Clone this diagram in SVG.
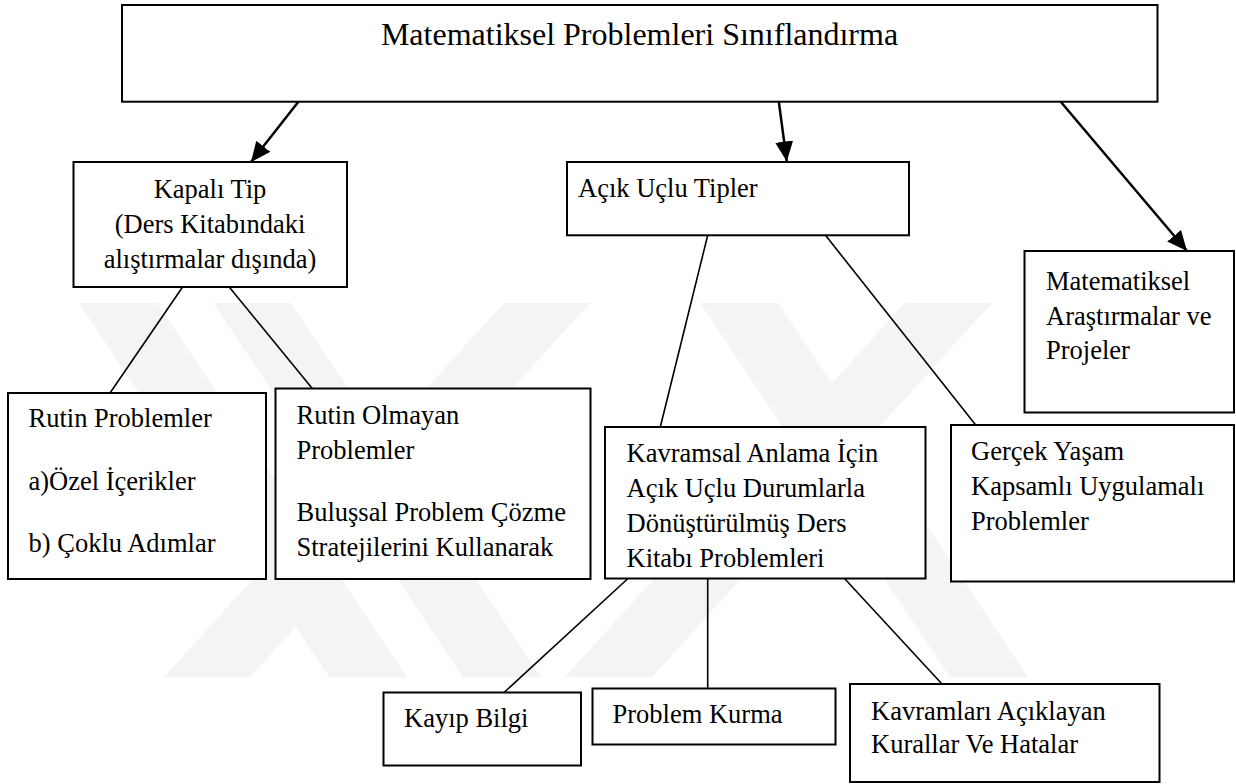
<svg xmlns="http://www.w3.org/2000/svg" width="1236" height="784" viewBox="0 0 1236 784">
<defs>
<style>
.box{fill:#fff;stroke:#000;stroke-width:2}
text{font-family:Liberation Serif, Tinos, Times New Roman, serif}
.t{font-size:26.5px;fill:#000}
.title{font-size:32px;fill:#000}
.arr{stroke:#000;stroke-width:2.5;fill:none}
.ln{stroke:#000;stroke-width:1.6;fill:none}
.wm{fill:#f4f4f4}
</style>
<marker id="ah" markerUnits="userSpaceOnUse" markerWidth="20" markerHeight="18" refX="20" refY="9" orient="auto">
<path d="M0,0 L20,9 L0,18 Z" fill="#000"/>
</marker>
</defs>
<rect width="1236" height="784" fill="#fff"/>
<g id="watermark">
<polygon class="wm" points="79,303 157,303 407,677 329,677"/>
<polygon class="wm" points="213,303 291,303 541,677 463,677"/>
<polygon class="wm" points="504,303 590,303 250,677 164,677"/>
<polygon class="wm" points="905,303 992,303 652,677 565,677"/>
<polygon class="wm" points="700,303 778,303 1028,677 950,677"/>
</g>
<g id="connectors">
<line class="arr" x1="298.4" y1="101.7" x2="251" y2="162" marker-end="url(#ah)"/>
<line class="arr" x1="778.8" y1="101.7" x2="786.8" y2="161.5" marker-end="url(#ah)"/>
<line class="arr" x1="1060.7" y1="101.7" x2="1187" y2="251" marker-end="url(#ah)"/>
<line class="ln" x1="182.6" y1="287" x2="110" y2="393"/>
<line class="ln" x1="229.2" y1="287" x2="312.3" y2="388.5"/>
<line class="ln" x1="707.7" y1="235.3" x2="660.3" y2="427"/>
<line class="ln" x1="825.5" y1="235.3" x2="975.7" y2="425"/>
<line class="ln" x1="628" y1="578.5" x2="504" y2="692.5"/>
<line class="ln" x1="707.7" y1="578.5" x2="707.7" y2="688.5"/>
<line class="ln" x1="844.5" y1="578.5" x2="942" y2="684"/>
</g>
<g id="n-root">
<rect class="box" x="122" y="5" width="1035.5" height="96.7"/>
<text class="title" font-family="Liberation Serif" x="639.5" y="45" text-anchor="middle">Matematiksel Problemleri Sınıflandırma</text>
</g>
<g id="n-kapali">
<rect class="box" x="73.5" y="162" width="273.5" height="125"/>
<text class="t" font-family="Liberation Serif" x="210" y="198" text-anchor="middle">Kapalı Tip</text>
<text class="t" font-family="Liberation Serif" x="210" y="233" text-anchor="middle">(Ders Kitabındaki</text>
<text class="t" font-family="Liberation Serif" x="210" y="268" text-anchor="middle">alıştırmalar dışında)</text>
</g>
<g id="n-acik">
<rect class="box" x="567" y="162" width="342" height="73.3"/>
<text class="t" font-family="Liberation Serif" x="578" y="197">Açık Uçlu Tipler</text>
</g>
<g id="n-arastirma">
<rect class="box" x="1024.5" y="251" width="209.5" height="161.5"/>
<text class="t" font-family="Liberation Serif" x="1046" y="290">Matematiksel</text>
<text class="t" font-family="Liberation Serif" x="1046" y="325">Araştırmalar ve</text>
<text class="t" font-family="Liberation Serif" x="1046" y="359">Projeler</text>
</g>
<g id="n-rutin">
<rect class="box" x="8" y="393" width="258" height="186"/>
<text class="t" font-family="Liberation Serif" x="28.5" y="427">Rutin Problemler</text>
<text class="t" font-family="Liberation Serif" x="28.5" y="489.5">a)Özel İçerikler</text>
<text class="t" font-family="Liberation Serif" x="28.5" y="552">b) Çoklu Adımlar</text>
</g>
<g id="n-rutin-olmayan">
<rect class="box" x="275.5" y="388.5" width="315" height="190.5"/>
<text class="t" font-family="Liberation Serif" x="296.5" y="424">Rutin Olmayan</text>
<text class="t" font-family="Liberation Serif" x="296.5" y="459">Problemler</text>
<text class="t" font-family="Liberation Serif" x="296.5" y="521">Buluşsal Problem Çözme</text>
<text class="t" font-family="Liberation Serif" x="296.5" y="556">Stratejilerini Kullanarak</text>
</g>
<g id="n-kavramsal">
<rect class="box" x="605" y="427" width="320.5" height="151.5"/>
<text class="t" font-family="Liberation Serif" x="626.5" y="462">Kavramsal Anlama İçin</text>
<text class="t" font-family="Liberation Serif" x="626.5" y="497">Açık Uçlu Durumlarla</text>
<text class="t" font-family="Liberation Serif" x="626.5" y="532">Dönüştürülmüş Ders</text>
<text class="t" font-family="Liberation Serif" x="626.5" y="567">Kitabı Problemleri</text>
</g>
<g id="n-gercek">
<rect class="box" x="951" y="425" width="283" height="156.5"/>
<text class="t" font-family="Liberation Serif" x="971" y="460">Gerçek Yaşam</text>
<text class="t" font-family="Liberation Serif" x="971" y="495">Kapsamlı Uygulamalı</text>
<text class="t" font-family="Liberation Serif" x="971" y="530">Problemler</text>
</g>
<g id="n-kayip">
<rect class="box" x="383.5" y="692.5" width="197.5" height="73"/>
<text class="t" font-family="Liberation Serif" x="404" y="727">Kayıp Bilgi</text>
</g>
<g id="n-kurma">
<rect class="box" x="592.5" y="688.5" width="243" height="56"/>
<text class="t" font-family="Liberation Serif" x="612.5" y="723">Problem Kurma</text>
</g>
<g id="n-kavramlar">
<rect class="box" x="850" y="684" width="309.5" height="98"/>
<text class="t" font-family="Liberation Serif" x="871" y="720">Kavramları Açıklayan</text>
<text class="t" font-family="Liberation Serif" x="871" y="753">Kurallar Ve Hatalar</text>
</g>
</svg>
